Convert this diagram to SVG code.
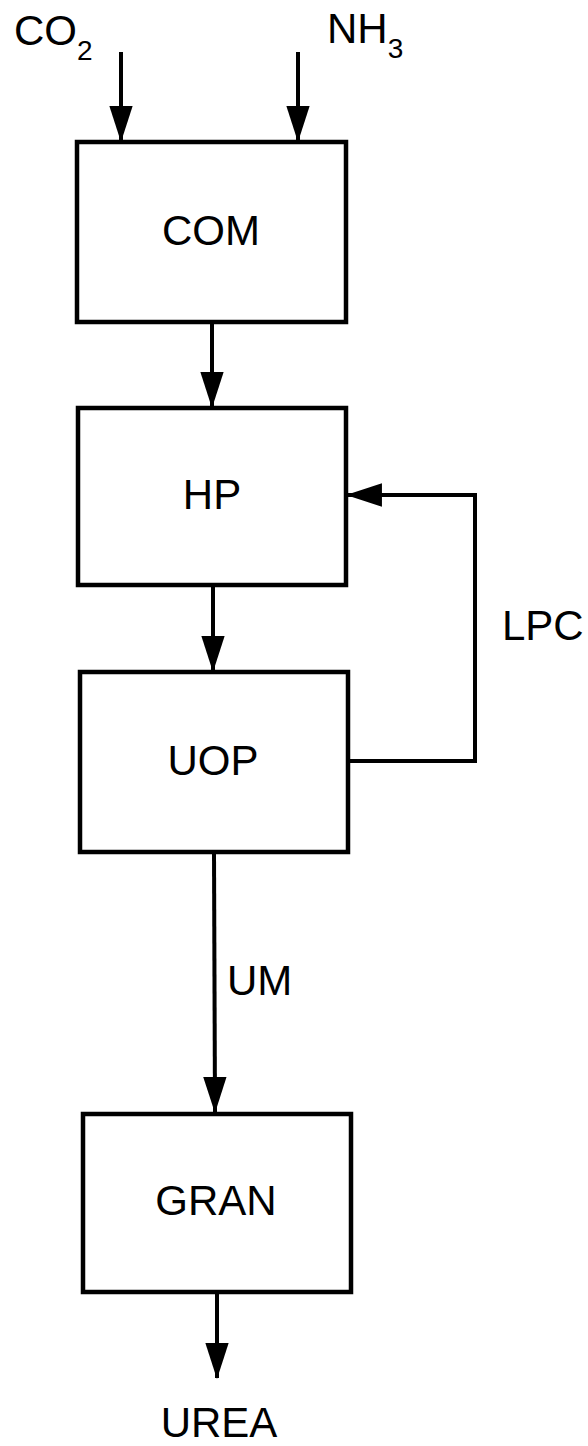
<svg xmlns="http://www.w3.org/2000/svg" width="588" height="1446" viewBox="0 0 588 1446">
<defs>
<style>
.box{fill:#fff;stroke:#000;stroke-width:4.5}
.ln{fill:none;stroke:#000;stroke-width:4}
.t{font-family:"Liberation Sans",Arial,sans-serif;font-size:42px;fill:#000}
.c{text-anchor:middle}
.s{font-size:28px}
</style>
<marker id="ah" markerUnits="userSpaceOnUse" markerWidth="36" markerHeight="24" viewBox="0 0 34 22" refX="33" refY="11" orient="auto">
<path d="M0,0 L34,11 L0,22 Z" fill="#000"/>
</marker>
</defs>
<rect width="588" height="1446" fill="#fff"/>
<g id="connectors">
<line class="ln" x1="121" y1="52" x2="121" y2="141" marker-end="url(#ah)"/>
<line class="ln" x1="298" y1="52" x2="298" y2="141" marker-end="url(#ah)"/>
<line class="ln" x1="212" y1="322" x2="212" y2="407" marker-end="url(#ah)"/>
<line class="ln" x1="213" y1="585" x2="213" y2="671" marker-end="url(#ah)"/>
<polyline class="ln" points="348,761 475,761 475,495 347,495" marker-end="url(#ah)"/>
<line class="ln" x1="214" y1="852" x2="215" y2="1112" marker-end="url(#ah)"/>
<line class="ln" x1="217" y1="1292" x2="217" y2="1378" marker-end="url(#ah)"/>
<text class="t" x="502" y="640">LPC</text>
<text class="t" x="227" y="995">UM</text>
</g>
<g id="CO2"><text class="t" x="14" y="45">CO<tspan class="s" dy="15">2</tspan></text></g>
<g id="NH3"><text class="t" x="327" y="43">NH<tspan class="s" dy="15">3</tspan></text></g>
<g id="COM"><rect class="box" x="77" y="142" width="269" height="180"/><text class="t c" x="211" y="245">COM</text></g>
<g id="HP"><rect class="box" x="78" y="408" width="268" height="177"/><text class="t c" x="212" y="509">HP</text></g>
<g id="UOP"><rect class="box" x="80" y="672" width="268" height="180"/><text class="t c" x="213" y="775">UOP</text></g>
<g id="GRAN"><rect class="box" x="83" y="1114" width="268" height="178"/><text class="t c" x="216" y="1215">GRAN</text></g>
<g id="UREA"><text class="t c" x="219" y="1437">UREA</text></g>
</svg>
